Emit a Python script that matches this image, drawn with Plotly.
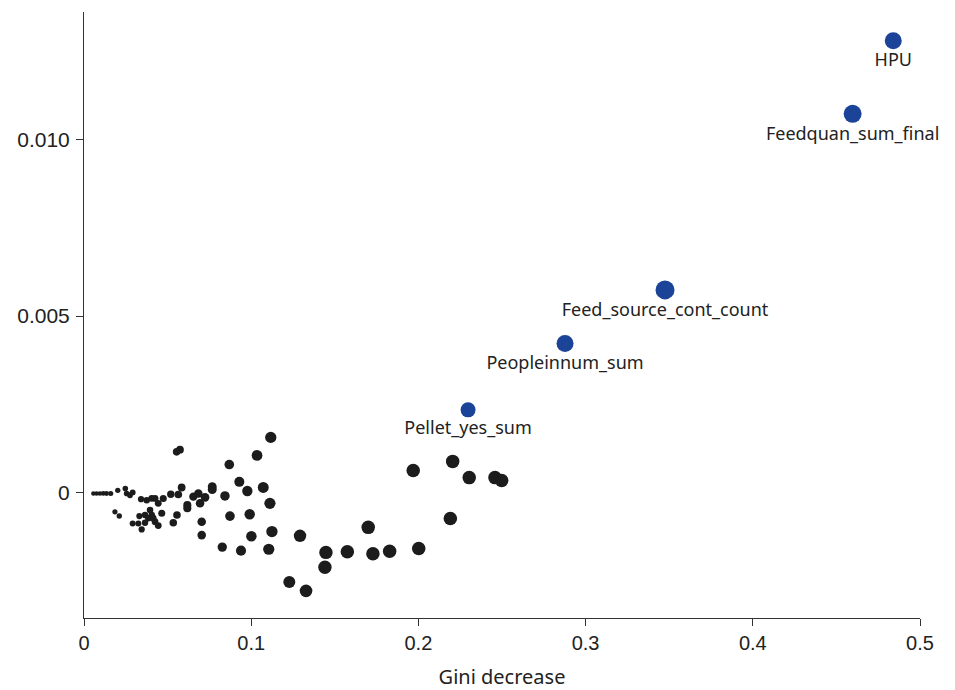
import plotly.graph_objects as go

# Highlighted variables (blue)
top_names = ["HPU", "Feedquan_sum_final", "Feed_source_cont_count", "Peopleinnum_sum", "Pellet_yes_sum"]
top_gini = [0.4840, 0.4597, 0.3475, 0.2877, 0.2297]
top_value = [0.01280, 0.01073, 0.00574, 0.00422, 0.00234]

# Remaining variables (black)
other_gini = [0.0056, 0.0075, 0.0095, 0.0115, 0.0135, 0.0160,
              0.0202, 0.0247, 0.0255, 0.0275, 0.0291, 0.0185, 0.0211,
              0.0341, 0.0375, 0.0405, 0.0425, 0.0444, 0.0474, 0.0519, 0.0564, 0.0584,
              0.0331, 0.0365, 0.0395, 0.0405, 0.0385, 0.0414, 0.0465,
              0.0291, 0.0325, 0.0365, 0.0345, 0.0444, 0.0425, 0.0556, 0.0534,
              0.0554, 0.0574, 0.0618, 0.0618, 0.0654, 0.0684, 0.0724, 0.0694,
              0.0767, 0.0767, 0.0704, 0.0704, 0.0843, 0.0869, 0.0873, 0.0827,
              0.0929, 0.0977, 0.0991, 0.1001, 0.0939, 0.1035, 0.1072, 0.1112,
              0.1117, 0.1124, 0.1105, 0.1228, 0.1292, 0.1328, 0.1447, 0.1441,
              0.1575, 0.1700, 0.1728, 0.1828, 0.2002, 0.1969, 0.2205, 0.2304,
              0.2191, 0.2458, 0.2498]
other_value = [-0.00003, -0.00003, -0.00003, -0.00003, -0.00003, -0.00003,
               0.00006, 0.00011, -0.00003, -0.00008, 0.00000, -0.00055, -0.00067,
               -0.00019, -0.00022, -0.00017, -0.00017, -0.00031, -0.00017, -0.00005, -0.00006, 0.00014,
               -0.00067, -0.00064, -0.00050, -0.00064, -0.00073, -0.00073, -0.00059,
               -0.00088, -0.00088, -0.00086, -0.00105, -0.00094, -0.00083, -0.00064, -0.00086,
               0.00115, 0.00121, -0.00036, -0.00045, -0.00012, -0.00003, -0.00014, -0.00031,
               0.00016, 0.00008, -0.00083, -0.00121, -0.00010, 0.00079, -0.00067, -0.00155,
               0.00030, 0.00004, -0.00062, -0.00124, -0.00165, 0.00105, 0.00014, -0.00031,
               0.00156, -0.00111, -0.00161, -0.00254, -0.00123, -0.00279, -0.00170, -0.00212,
               -0.00168, -0.00099, -0.00174, -0.00167, -0.00159, 0.00062, 0.00088, 0.00042,
               -0.00074, 0.00042, 0.00034]

x_ticks = [0, 0.1, 0.2, 0.3, 0.4, 0.5]
x_tick_labels = ["0", "0.1", "0.2", "0.3", "0.4", "0.5"]
y_ticks = [0, 0.005, 0.010]
y_tick_labels = ["0", "0.005", "0.010"]

# style
BLUE = "#1b4398"
BLACK = "#1c1c1c"
blue_sizes = [17, 18, 19, 17, 15]
black_sizes = [min(13.5, 4.0 + 65 * g) for g in other_gini]
label_font = dict(family="Noto Sans", size=18, color="#222222")
tick_font = dict(family="Liberation Sans, Arial", size=20, color="#222222")
ytick_font = dict(family="Liberation Sans, Arial", size=21, color="#222222")

fig = go.Figure()
fig.add_trace(go.Scatter(
    x=other_gini, y=other_value, mode="markers",
    marker=dict(color=BLACK, size=black_sizes, opacity=1, line=dict(width=0)),
    showlegend=False, hoverinfo="x+y"))
fig.add_trace(go.Scatter(
    x=top_gini, y=top_value, mode="markers+text",
    text=top_names, textposition="bottom center",
    textfont=label_font, cliponaxis=False,
    marker=dict(color=BLUE, size=blue_sizes, opacity=1, line=dict(width=0)),
    showlegend=False))

# page body has an 8px margin, so the figure is 8px smaller than the window
fig.update_layout(
    width=947, height=682,
    margin=dict(l=76, r=35, t=4, b=70),
    paper_bgcolor="white", plot_bgcolor="white",
    xaxis=dict(range=[0, 0.5], tickvals=x_ticks, ticktext=x_tick_labels,
               showgrid=False, zeroline=False, showline=True, linecolor="#333333",
               linewidth=1, ticks="outside", ticklen=7, tickcolor="#333333",
               tickfont=tick_font,
               title=dict(text="Gini decrease", font=dict(family="Noto Sans", size=20, color="#222222"),
                          standoff=18)),
    yaxis=dict(range=[-0.003559, 0.013616], tickvals=y_ticks, ticktext=y_tick_labels,
               showgrid=False, zeroline=False, showline=True, linecolor="#333333",
               linewidth=1, ticks="outside", ticklen=7, tickcolor="#333333",
               tickfont=ytick_font, ticklabelstandoff=2),
)

fig.write_html("out.html")
